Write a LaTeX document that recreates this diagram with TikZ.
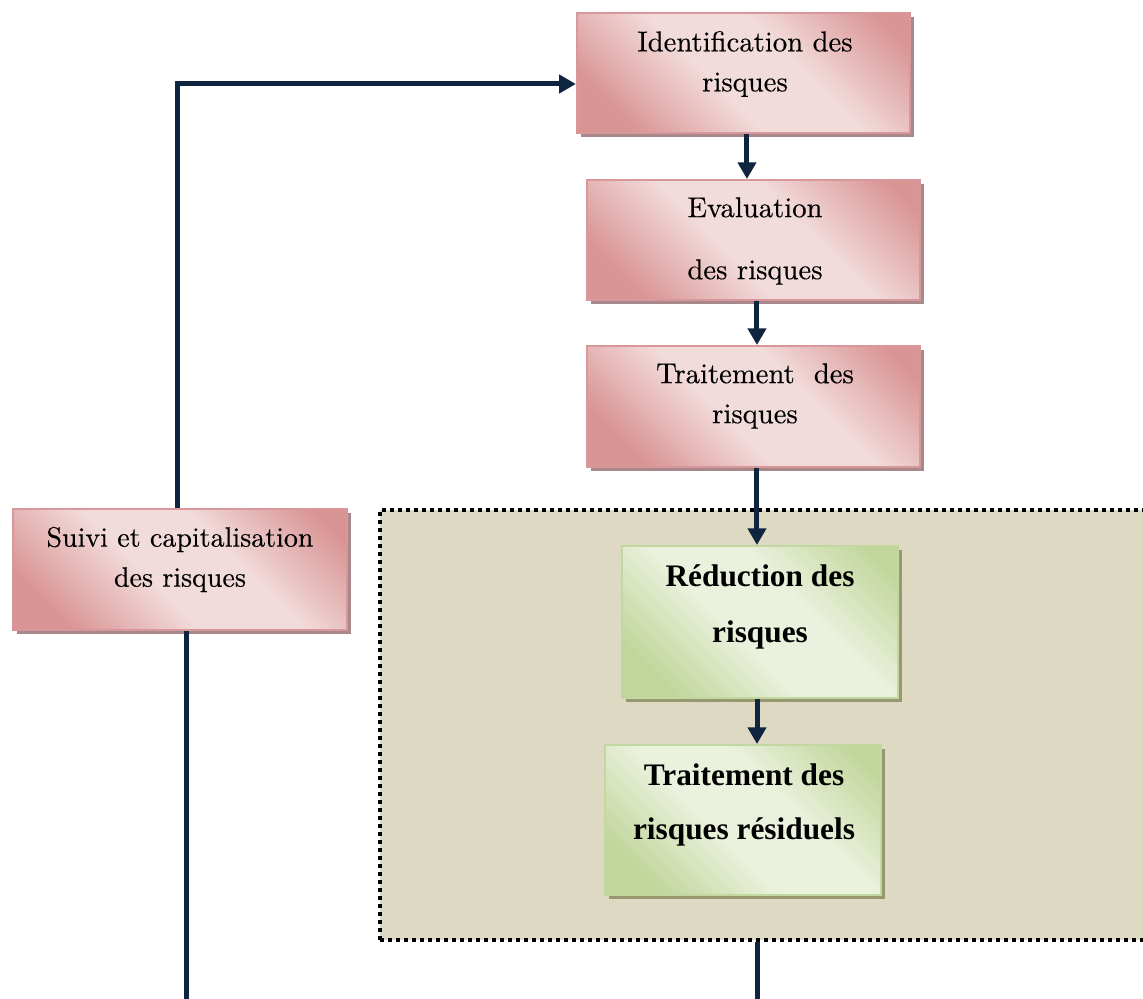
\documentclass[tikz,border=0pt]{standalone}
\usepackage{fontspec}
\newfontfamily\timesfont{Liberation Serif}
\newfontfamily\lmheavy{lmroman10-regular.otf}[FakeBold=0.3]
\usetikzlibrary{arrows.meta,shadows}
\definecolor{pinkdark}{HTML}{D99594}
\definecolor{pinklight}{HTML}{F2DBDB}
\definecolor{pinkborder}{HTML}{D8979A}
\definecolor{pinkshadow}{HTML}{A8888B}
\definecolor{greendark}{HTML}{C2D69B}
\definecolor{greenlight}{HTML}{EAF1DD}
\definecolor{greenborder}{HTML}{C3D8A0}
\definecolor{greenshadow}{HTML}{989870}
\definecolor{navy}{HTML}{0F243E}
\definecolor{zonefill}{HTML}{DDD9C3}
\pgfdeclareverticalshading{redgrad}{100bp}{color(0bp)=(pinkdark); color(24bp)=(pinkdark); color(44bp)=(pinklight); color(60bp)=(pinklight); color(80bp)=(pinkdark); color(100bp)=(pinkdark)}
\pgfdeclareverticalshading{greengrad}{100bp}{color(0bp)=(greendark); color(24bp)=(greendark); color(44bp)=(greenlight); color(60bp)=(greenlight); color(80bp)=(greendark); color(100bp)=(greendark)}
\begin{document}
\begin{tikzpicture}[x=0.75pt,y=-0.75pt,
  redbox/.style={draw=pinkborder, line width=1.5pt,
    shading=redgrad, shading angle=-45,
    general shadow={fill=pinkshadow, shadow xshift=3pt, shadow yshift=-3pt},
    minimum width=250pt, minimum height=90pt, inner sep=0pt},
  greenbox/.style={draw=greenborder, line width=1.5pt,
    shading=greengrad, shading angle=-45,
    general shadow={fill=greenshadow, shadow xshift=3pt, shadow yshift=-3pt},
    minimum width=207pt, minimum height=113pt, inner sep=0pt},
  redtxt/.style={align=center, inner sep=0pt, font=\lmheavy\fontsize{21.5}{30}\selectfont},
  greentxt/.style={align=center, inner sep=0pt, font=\timesfont\bfseries\fontsize{23.5}{42}\selectfont},
  arr/.style={draw=navy, line width=3.75pt, -{Triangle[width=13.5pt,length=12.5pt]}},
  link/.style={draw=navy, line width=3.75pt},
  zone/.style={draw=black, fill=zonefill, line width=3pt, dash pattern=on 3pt off 3pt,
    minimum width=585pt, minimum height=322.5pt, inner sep=0pt}
]
\useasboundingbox (0,0) rectangle (1143,999);
\clip (0,0) rectangle (1143,999);

% zone
\node[zone] (zone) at (770,725) {};

% boxes
\node[redbox] (ident) at (743.5,73) {};
\node[redbox] (eval) at (753.5,240) {};
\node[redbox, minimum height=90.75pt] (trait) at (753.5,406.5) {};
\node[redbox, minimum width=250.5pt, minimum height=90.75pt] (suivi) at (180,569.5) {};
\node[greenbox, minimum height=114pt] (reduc) at (760,622) {};
\node[greenbox, minimum height=112.5pt] (resid) at (743,820) {};

% texts
\node[redtxt] (identT) at (745,64) {Identification des\\risques};
\node[redtxt] (evalT) at (755,241) {Evaluation\\[16.5pt]des risques};
\node[redtxt] (traitT) at (755,396) {Traitement~ des\\risques};
\node[redtxt, font=\lmheavy\fontsize{21}{30}\selectfont] (suiviT) at (180,559.5) {Suivi et capitalisation\\des risques};
\node[greentxt] (reducT) at (760,607) {R\'eduction des\\risques};
\node[greentxt] (residT) at (744,805) {Traitement des\\[-1.5pt]risques r\'esiduels};

% end points
\coordinate (endL) at (186,999);
\coordinate (endR) at (757,999);

% connectors
\draw[arr] ([xshift=2.6pt]ident.south) -- ([xshift=2.6pt]ident.south |- eval.north);
\draw[arr] ([xshift=2.6pt]eval.south) -- ([xshift=2.6pt]eval.south |- trait.north);
\draw[arr] ([xshift=2.6pt]trait.south) -- ([xshift=2.6pt]trait.south |- reduc.north);
\draw[arr] ([xshift=-2.25pt]reduc.south) -- ([xshift=-2.25pt]reduc.south |- resid.north);
\draw[arr] ([xshift=-2.25pt]suivi.north) |- ([yshift=-8.25pt]ident.west);
\draw[link] ([xshift=4.5pt]suivi.south) -- (endL);
\draw[link] (endR |- zone.south) -- (endR);
\end{tikzpicture}
\end{document}
